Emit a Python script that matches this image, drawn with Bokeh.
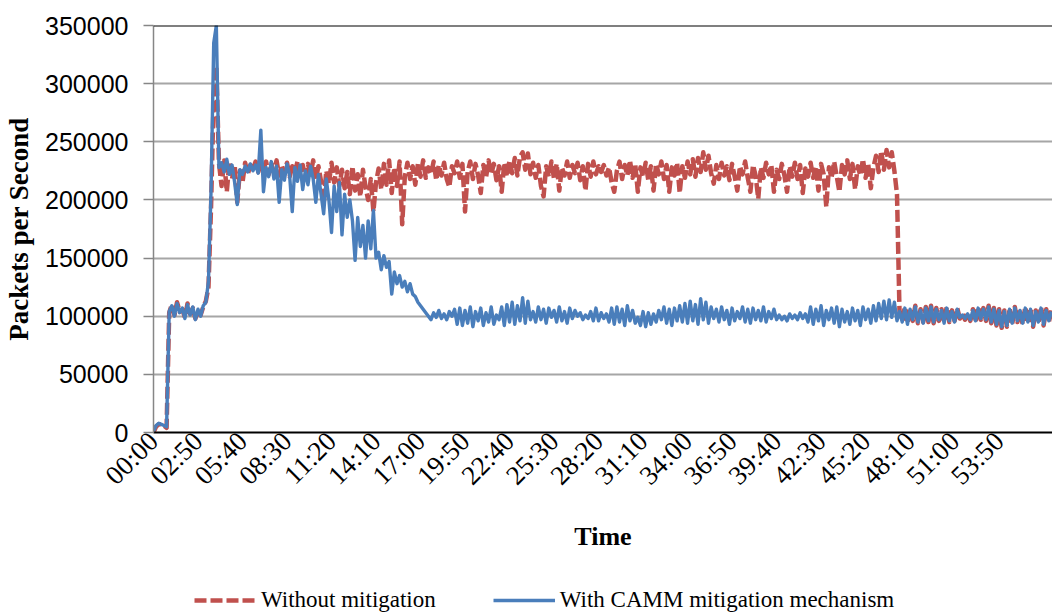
import numpy as np
from bokeh.plotting import figure
from bokeh.layouts import column
from bokeh.models import Range1d, FixedTicker, BasicTickFormatter, Span, Legend, LegendItem
from bokeh.embed import file_html
from bokeh.resources import INLINE

SAMPLE_STEP_S = 10  # one reading every 10 seconds

tick_labels = ["00:00", "02:50", "05:40", "08:30", "11:20", "14:10", "17:00", "19:50",
               "22:40", "25:30", "28:20", "31:10", "34:00", "36:50", "39:40", "42:30",
               "45:20", "48:10", "51:00", "53:50"]
y_ticks = [0, 50000, 100000, 150000, 200000, 250000, 300000, 350000]
series_names = ["Without mitigation", "With CAMM mitigation mechanism"]

# Packets per second, in thousands
without_kpps = [
    0, 5, 7, 7, 6, 4,
    103, 110, 101, 112, 104, 106, 99, 111, 102, 107, 98, 105, 101, 108, 113,
    125, 195, 290, 315, 232,
    212, 234, 207, 233, 218, 230, 198,
    225, 215, 232, 222, 230, 226, 233, 224, 231,
    226, 233, 222, 231, 224, 234, 221, 230, 223, 232,
    220, 229, 224, 233, 221, 230, 219, 231, 222, 234,
    218, 229, 216, 197, 225, 214,
    232, 215, 228, 212, 226,
    210, 224, 205, 229, 208, 222, 203, 226, 211, 200,
    218, 190, 215, 227, 209, 231, 213, 234, 206, 228,
    212, 233,
    179, 220,
    232, 218, 229, 213, 231, 220, 234, 219, 228, 222,
    233, 217, 230, 221, 232, 218, 211, 229, 223, 233,
    219, 231,
    190,
    224, 233, 218, 231, 221, 206, 230, 219, 234, 222,
    231, 217, 229, 207, 232, 220, 234, 223, 236, 221,
    237,
    241, 226, 240,
    222, 232, 219, 230, 212, 203, 229, 220, 233, 218,
    231, 208, 228, 221, 233, 219, 230, 223, 232, 217,
    229, 208, 231, 220, 233, 222, 229, 224, 230, 221,
    228, 215, 207,
    225, 233, 218, 230, 221, 234, 219, 231, 207, 228,
    220, 232, 217, 229, 208, 231, 222, 233, 218, 230,
    207, 228, 221, 232, 206, 229, 219, 233, 222, 235,
    220, 236, 224, 241, 226, 238, 223,
    214, 230, 218, 232, 221, 229, 217, 231, 220, 208,
    229, 222, 233, 219, 207, 230, 221, 201, 228, 219,
    232, 222, 230, 207, 226, 218, 231, 221, 207, 229,
    220, 232, 218, 230, 206, 227, 220, 232, 219, 229,
    208, 231, 222, 194, 228, 219, 233, 220, 207, 230,
    222, 234, 218, 231, 209, 229, 221, 235, 219, 231,
    210, 228, 238, 224, 242, 226, 243, 228, 241, 225,
    205, 100,
    96, 108, 94, 107, 96, 109, 94, 106, 95, 108,
    95, 109, 94, 107, 96, 106, 95, 108, 95, 105,
    96, 107, 98, 102, 97, 103, 96, 106, 95, 108,
    97, 107, 96, 109, 94, 107, 92, 106, 90, 105,
    91, 107, 93, 108, 95, 106, 93, 108, 94, 107,
    91, 105, 94, 108, 92, 106, 95, 105,
]

with_camm_kpps = [
    1, 6, 8, 7, 6, 5,
    104, 109, 100, 111, 103, 107, 98, 110, 101, 108, 97, 106, 100, 109, 112,
    130, 210, 335, 350, 228,
    232, 224, 235, 222, 230, 215, 196,
    226, 222, 229, 224, 231, 225, 230, 223, 260,
    207, 228, 220, 233, 218, 229, 198,
    226, 217, 231, 221, 190,
    228, 216, 230, 209, 225, 213, 229, 218, 198,
    222, 205, 188, 218, 200,
    172, 212, 190, 215, 170,
    205, 185, 200, 182,
    148,
    185, 160, 178, 150, 182, 158, 191,
    150, 155, 140, 152,
    142, 147, 119, 138, 128, 135,
    125, 130, 121, 128, 119,
    117, 112, 109, 106, 103,
    100, 97, 103, 99, 105, 98, 102, 97, 104, 100, 106,
    93, 107, 92, 105, 94, 108, 91, 104, 96, 107, 92, 103, 95, 108, 93, 101, 97,
    108, 92, 110, 95, 112, 93, 109, 96, 116, 94, 113, 97,
    104, 95, 108, 97, 106, 94, 107, 99, 105, 95, 108, 96, 104, 94, 107, 98, 105, 100, 103, 97,
    101, 98, 104, 96, 107,
    96, 103, 98, 102, 95, 107, 93, 108, 95, 106, 92, 109, 96, 105, 94,
    99, 92, 104, 91, 103, 93, 102, 95, 105, 97,
    108, 94, 106, 92, 107, 96, 109,
    95, 111, 94, 113, 96, 110, 93, 115, 97, 112, 94, 108,
    98, 106, 95, 108, 97, 105, 93, 107, 96, 104, 98, 108, 95, 106, 94, 107, 97, 105, 96, 108,
    95, 104, 98, 106, 97,
    101, 97, 100, 96, 102, 98, 101, 97, 103, 98, 102,
    95, 108, 93, 106, 96, 109, 92, 105, 97, 107, 94, 108, 91, 106, 95, 104, 93, 107, 96, 105,
    92, 108, 97, 106, 94,
    109, 96, 111, 98, 113, 97, 114, 99, 112,
    96, 104, 95, 107, 93, 106, 97, 108, 95, 105,
    94, 107, 96, 108, 95, 106, 97, 105, 94, 107,
    96, 104, 95, 106, 99, 101, 98, 102, 97, 105,
    96, 107, 98, 106, 97, 108, 95, 106, 93, 105,
    91, 104, 92, 106, 94, 107, 96, 105, 94, 107,
    95, 106, 92, 104, 95, 107, 93, 105, 96, 104,
]

t_without = np.arange(len(without_kpps)) * SAMPLE_STEP_S
t_with = np.arange(len(with_camm_kpps)) * SAMPLE_STEP_S
y_without = np.array(without_kpps) * 1000
y_with = np.array(with_camm_kpps) * 1000


def to_seconds(lbl):
    m, s = lbl.split(":")
    return int(m) * 60 + int(s)


tick_pos = [to_seconds(l) for l in tick_labels]

RED = "#C0504D"
BLUE = "#4A7EBB"
RED_STYLE = dict(line_color=RED, line_width=4.5, line_dash="12 4", line_join="round")
BLUE_STYLE = dict(line_color=BLUE, line_width=3.4, line_join="round")

p = figure(width=1052, height=562, output_backend="svg", toolbar_location=None,
           x_range=Range1d(0, 3434), y_range=Range1d(0, 350000),
           min_border_left=153, min_border_right=0, min_border_top=25, min_border_bottom=130)
p.outline_line_color = None
p.background_fill_color = "white"
p.border_fill_color = "white"

p.line(t_without, y_without, **RED_STYLE)
p.line(t_with, y_with, **BLUE_STYLE)

# y axis
p.yaxis.ticker = FixedTicker(ticks=y_ticks)
p.yaxis.formatter = BasicTickFormatter(use_scientific=False)
p.yaxis.major_label_text_font = "Liberation Sans"
p.yaxis.major_label_text_font_size = "25px"
p.yaxis.major_label_text_color = "black"
p.yaxis.axis_line_color = "#868686"
p.yaxis.axis_line_width = 1.5
p.yaxis.major_tick_line_color = "#868686"
p.yaxis.major_tick_line_width = 1.5
p.yaxis.major_tick_out = 10
p.yaxis.major_tick_in = 0
p.yaxis.minor_tick_line_color = None
p.yaxis.major_label_standoff = 15
p.yaxis.axis_label = "Packets per Second"
p.yaxis.axis_label_text_font = "Liberation Serif"
p.yaxis.axis_label_text_font_style = "bold"
p.yaxis.axis_label_text_font_size = "27px"
p.yaxis.axis_label_text_color = "black"
p.yaxis.axis_label_standoff = 8

# x axis
p.xaxis.ticker = FixedTicker(ticks=tick_pos)
p.xaxis.major_label_overrides = {pos: lbl for pos, lbl in zip(tick_pos, tick_labels)}
p.xaxis.major_label_orientation = np.pi / 4
p.xaxis.major_label_text_font = "Liberation Serif"
p.xaxis.major_label_text_font_size = "27px"
p.xaxis.major_label_text_color = "black"
p.xaxis.axis_line_color = "black"
p.xaxis.axis_line_width = 2
p.xaxis.major_tick_line_color = None
p.xaxis.minor_tick_line_color = None
p.xaxis.major_tick_out = 0
p.xaxis.major_label_standoff = 4
p.xaxis.axis_label = "Time"
p.xaxis.axis_label_text_font = "Liberation Serif"
p.xaxis.axis_label_text_font_style = "bold"
p.xaxis.axis_label_text_font_size = "26px"
p.xaxis.axis_label_text_color = "black"
p.xaxis.axis_label_standoff = 18

p.xgrid.grid_line_color = None
p.ygrid.grid_line_color = "#A6A6A6"
p.ygrid.grid_line_width = 2

top_border = Span(location=350000, dimension="width", line_color="black", line_width=2)
p.add_layout(top_border)

# Legend strip underneath the chart (series drawn out of view, only the legend shows)
leg = figure(width=1052, height=51, output_backend="svg", toolbar_location=None,
             x_axis_location=None, y_axis_location=None,
             x_range=Range1d(-2000, -1000), y_range=Range1d(0, 350000),
             min_border=0)
leg.outline_line_color = None
leg.xgrid.grid_line_color = None
leg.ygrid.grid_line_color = None
lr_red = leg.line(t_without, y_without, **RED_STYLE)
lr_blue = leg.line(t_with, y_with, **BLUE_STYLE)
legend = Legend(items=[LegendItem(label=series_names[0], renderers=[lr_red]),
                       LegendItem(label=series_names[1], renderers=[lr_blue])],
                orientation="horizontal", location=(41, 0),
                glyph_width=62, glyph_height=20, label_standoff=5, spacing=57,
                padding=0, margin=0, border_line_color=None, background_fill_alpha=0,
                label_text_font="Liberation Serif", label_text_font_size="23px",
                label_text_color="black")
leg.add_layout(legend, "center")

layout = column(p, leg, spacing=0)
open("out.html", "w").write(file_html(layout, INLINE))
